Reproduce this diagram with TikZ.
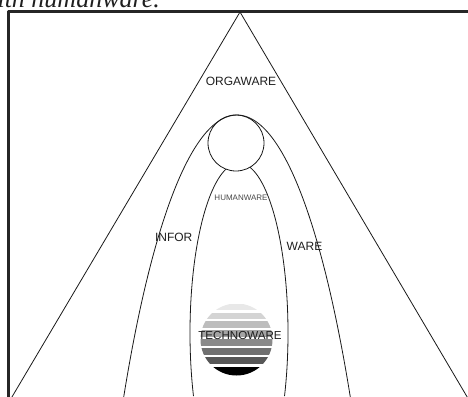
\documentclass[tikz,border=0pt]{standalone}
\usepackage{fontspec}
\setmainfont{Liberation Serif}
\newfontfamily\arialf{Liberation Sans}
\begin{document}
\begin{tikzpicture}[x=1pt,y=-1pt,line join=round,
  thinline/.style={line width=0.8pt,draw=black!90},
  lbl/.style={inner sep=0pt,font=\arialf\fontsize{12}{12}\selectfont,text=black!88}]
\useasboundingbox (0,0) rectangle (468,396);
\clip (0,0) rectangle (468,396);
% caption fragment (cut off at the top)
\node[anchor=base east,inner sep=0pt,font=\itshape\fontsize{26}{26}\selectfont,text=black!88] (cap) at (160,8) {with humanware.};
% frame
\draw[line width=2.6pt,draw=black!85] (8.7,400) -- (8.7,11.7) -- (472,11.7);
% triangle (orgaware)
\draw[thinline] (7.2,405) -- (240,12) -- (471.9,405);
% outer arch (inforware)
\draw[thinline] (237,961) ellipse[x radius=152pt,y radius=846pt];
% head
\draw[thinline] (236,143) circle[radius=28];
% inner arch (humanware), hidden inside the head
\begin{scope}[even odd rule]
\clip (0,0) rectangle (468,396) (236,143) circle[radius=28];
\draw[thinline] (239,333) ellipse[x radius=49pt,y radius=170pt];
\end{scope}
% striped technoware globe
\begin{scope}
\clip (236.5,339.5) circle[radius=36];
\foreach \t/\h/\p in {304/6/9, 312.5/6/17, 321/6.5/26, 330/7/36, 339/6.5/46, 348/6.5/56, 357/6.5/66, 367/10/100}{
  \fill[black!\p] (195,\t) rectangle (280,{\t+\h});
}
\end{scope}
% labels
\node[lbl] (orga) at (241,81.7) {ORGAWARE};
\node[lbl] (infor) at (173.7,237.5) {INFOR};
\node[lbl] (ware) at (304.5,246) {WARE};
\node[lbl,font=\arialf\fontsize{8}{8}\selectfont,text=black!72] (human) at (241,198) {HUMANWARE};
\node[lbl,font=\arialf\fontsize{11.6}{11.6}\selectfont] (techno) at (240,336) {TECHNOWARE};
\end{tikzpicture}
\end{document}
